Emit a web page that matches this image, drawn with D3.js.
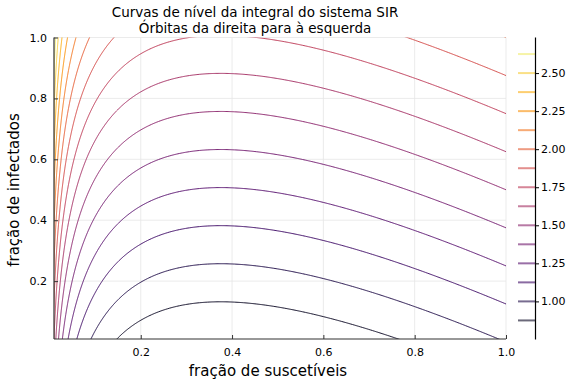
<!DOCTYPE html>
<html>
<head>
<meta charset="utf-8">
<script src="https://cdn.jsdelivr.net/npm/d3@7"></script>
<style>
  body { margin: 0; background: #fff; }
  text { font-family: "DejaVu Sans", sans-serif; fill: #000; }
</style>
</head>
<body>
<svg id="chart" width="576" height="384"></svg>
<script>
// SIR first integral: H(s, i) = s + i - rho * ln(s), rho = gamma / beta
var rho = 0.375;
var sDomain = [0.01, 1.0];
var iDomain = [0.01, 1.0];
var levels = [0.875, 1.0, 1.125, 1.25, 1.375, 1.5, 1.625, 1.75, 1.875, 2.0, 2.125, 2.25, 2.375, 2.5, 2.625];
var cbarDomain = [0.753, 2.737];
var cbarTicks = [1.0, 1.25, 1.5, 1.75, 2.0, 2.25, 2.5];
var axisTicks = [0.2, 0.4, 0.6, 0.8, 1.0];

var svg = d3.select("#chart");
var margin = { left: 54, right: 506, top: 37.5, bottom: 339 };

var x = d3.scaleLinear().domain(sDomain).range([margin.left, margin.right]);
var y = d3.scaleLinear().domain(iDomain).range([margin.bottom, margin.top]);
var color = d3.scaleSequential(d3.interpolateInferno).domain(cbarDomain);

// grid of H values (padded a few cells past the axes, then clipped)
var n = 500, pad = 4;
var ds = (sDomain[1] - sDomain[0]) / (n - 1);
var di = (iDomain[1] - iDomain[0]) / (n - 1);
var nx = n + 2 * pad, ny = n + 2 * pad;
var grid = new Array(nx * ny);
for (var j = 0; j < ny; j++) {
  var iv = iDomain[0] + (j - pad) * di;
  for (var k = 0; k < nx; k++) {
    var sv = Math.max(sDomain[0] + (k - pad) * ds, 1e-4);
    grid[j * nx + k] = sv + iv - rho * Math.log(sv);
  }
}

var contours = d3.contours().size([nx, ny]).thresholds(levels)(grid);

var proj = d3.geoTransform({
  point: function(gx, gy) {
    var sv = sDomain[0] + (gx - 0.5 - pad) * ds;
    var iv = iDomain[0] + (gy - 0.5 - pad) * di;
    this.stream.point(x(sv), y(iv));
  }
});
var path = d3.geoPath(proj);

svg.append("clipPath").attr("id", "clip")
  .append("rect")
  .attr("x", margin.left).attr("y", margin.top)
  .attr("width", margin.right - margin.left)
  .attr("height", margin.bottom - margin.top);

// grid lines
svg.append("g").selectAll("line").data(axisTicks).join("line")
  .attr("x1", d => x(d)).attr("x2", d => x(d))
  .attr("y1", margin.top).attr("y2", margin.bottom)
  .attr("stroke", "#e6e6e6").attr("stroke-width", 0.8);
svg.append("g").selectAll("line").data(axisTicks).join("line")
  .attr("y1", d => y(d)).attr("y2", d => y(d))
  .attr("x1", margin.left).attr("x2", margin.right)
  .attr("stroke", "#e6e6e6").attr("stroke-width", 0.8);

// contour lines
svg.append("g").attr("clip-path", "url(#clip)")
  .selectAll("path").data(contours).join("path")
  .attr("d", path)
  .attr("fill", "none")
  .attr("stroke", d => color(d.value))
  .attr("stroke-width", 1);

// axes
var xAxis = d3.axisBottom(x).tickValues(axisTicks).tickFormat(d3.format(".1f")).tickSizeInner(-4).tickSizeOuter(0).tickPadding(9);
var yAxis = d3.axisLeft(y).tickValues(axisTicks).tickFormat(d3.format(".1f")).tickSizeInner(-4).tickSizeOuter(0).tickPadding(7);

var gx = svg.append("g").attr("transform", "translate(0," + margin.bottom + ")").call(xAxis);
var gy = svg.append("g").attr("transform", "translate(" + margin.left + ",0)").call(yAxis);
[gx, gy].forEach(function(g) {
  g.select(".domain").attr("stroke", "#333").attr("stroke-width", 1.2);
  g.selectAll(".tick line").attr("stroke", "#333");
  g.selectAll(".tick text").attr("font-family", "DejaVu Sans").attr("font-size", 11).attr("fill", "#222");
});
gy.select(".domain").attr("d", "M0," + margin.bottom + "V" + margin.top);
gx.select(".domain").attr("d", "M" + margin.left + ",0H" + margin.right);

// colorbar
var cbX = 535, cbY = d3.scaleLinear().domain(cbarDomain).range([339, 37]);
svg.append("g").selectAll("line").data(levels).join("line")
  .attr("x1", cbX - 17).attr("x2", cbX)
  .attr("y1", d => cbY(d)).attr("y2", d => cbY(d))
  .attr("stroke", d => color(d.value === undefined ? d : d.value))
  .attr("stroke-width", 2)
  .attr("opacity", 0.6);
var gc = svg.append("g").attr("transform", "translate(" + cbX + ",0)")
  .call(d3.axisRight(cbY).tickValues(cbarTicks).tickFormat(d3.format(".2f")).tickSizeInner(4).tickSizeOuter(0).tickPadding(2));
gc.select(".domain").attr("stroke", "#000").attr("stroke-width", 1.2);
gc.selectAll(".tick line").attr("stroke", "#000");
gc.selectAll(".tick text").attr("font-family", "DejaVu Sans").attr("font-size", 11).attr("fill", "#222");

// titles
svg.append("text").attr("x", 255).attr("y", 17).attr("text-anchor", "middle")
  .style("font-size", "13.5px").text("Curvas de nível da integral do sistema SIR");
svg.append("text").attr("x", 255).attr("y", 33).attr("text-anchor", "middle")
  .style("font-size", "13.5px").text("Órbitas da direita para à esquerda");
svg.append("text").attr("x", 268).attr("y", 376).attr("text-anchor", "middle")
  .style("font-size", "15px").text("fração de suscetíveis");
svg.append("text").attr("transform", "translate(19,190) rotate(-90)").attr("text-anchor", "middle")
  .style("font-size", "15px").text("fração de infectados");
</script>
</body>
</html>
